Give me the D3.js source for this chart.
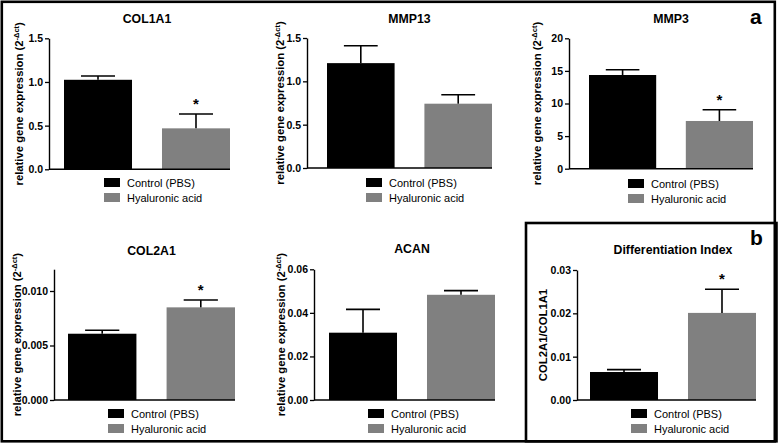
<!DOCTYPE html>
<html><head><meta charset="utf-8">
<script src="https://cdn.jsdelivr.net/npm/d3@7"></script>
<style>
html,body{margin:0;padding:0;background:#fff;}
svg{display:block;font-family:"Liberation Sans",Arial,sans-serif;}
</style></head>
<body>
<svg id="chart" width="778" height="446"></svg>
<script>
// ---- data ----
const panelTitles = ["COL1A1", "MMP13", "MMP3", "COL2A1", "ACAN", "Differentiation Index"];
const groups = ["Control (PBS)", "Hyaluronic acid"];
const controlMean = [1.025, 1.21, 14.37, 0.00608, 0.0309, 0.00646];
const controlErr  = [0.043, 0.20, 0.81, 0.00032, 0.0107, 0.00054];
const haMean      = [0.469, 0.742, 7.32, 0.0085, 0.0483, 0.0201];
const haErr       = [0.164, 0.104, 1.73, 0.00067, 0.0019, 0.00545];
const significant = [[false, true], [false, false], [false, true], [false, true], [false, false], [false, true]];
const yMax = [1.5, 1.5, 20, 0.012, 0.06, 0.03];
const yTicks = [[0, 0.5, 1.0, 1.5], [0, 0.5, 1.0, 1.5], [0, 5, 10, 15, 20], [0, 0.005, 0.010], [0, 0.02, 0.04, 0.06], [0, 0.01, 0.02, 0.03]];
const tickFormats = [".1f", ".1f", "d", ".3f", ".2f", ".2f"];
const yLabelMain = ["relative gene expression (2", "relative gene expression (2", "relative gene expression (2", "relative gene expression (2", "relative gene expression (2", "COL2A1/COL1A1"];
const yLabelSup = ["-\u0394ct", "-\u0394ct", "-\u0394ct", "-\u0394ct", "-\u0394ct", ""];
const colors = ["#000000", "#808080"];

// ---- layout (pixels) ----
const layout = [
  {ax: 49,  top: 38.3, bot: 169.3, b0: 64,  b1: 230, lab: 23,  legX: 104, legY: 178, titleY: 23},
  {ax: 307, top: 38,   bot: 168,   b0: 327, b1: 492, lab: 284, legX: 366, legY: 178, titleY: 23},
  {ax: 569, top: 38.3, bot: 168.7, b0: 589, b1: 753, lab: 541, legX: 628, legY: 179, titleY: 23},
  {ax: 54,  top: 269.2,bot: 400,   b0: 68,  b1: 235, lab: 21,  legX: 108, legY: 409, titleY: 255},
  {ax: 314, top: 269.3,bot: 400,   b0: 329, b1: 495, lab: 285, legX: 368, legY: 409, titleY: 253},
  {ax: 577, top: 270,  bot: 400,   b0: 590, b1: 756, lab: 547, legX: 631, legY: 409, titleY: 254}
];

const svg = d3.select("#chart");

// frames
svg.append("rect").attr("x", 1.8).attr("y", 1.8).attr("width", 773).attr("height", 439.5)
  .attr("fill", "none").attr("stroke", "#000").attr("stroke-width", 2.6);
svg.append("rect").attr("x", 526).attr("y", 223).attr("width", 250.5).attr("height", 218.3)
  .attr("fill", "none").attr("stroke", "#000").attr("stroke-width", 2.6);

svg.append("text").attr("x", 750).attr("y", 23.5).attr("font-size", 21).attr("font-weight", "bold").text("a");
svg.append("text").attr("x", 750).attr("y", 244.5).attr("font-size", 21).attr("font-weight", "bold").text("b");

panelTitles.forEach((title, i) => {
  const L = layout[i];
  const g = svg.append("g");
  const values = [
    {grp: groups[0], mean: controlMean[i], err: controlErr[i], sig: significant[i][0]},
    {grp: groups[1], mean: haMean[i], err: haErr[i], sig: significant[i][1]}
  ];
  const x = d3.scaleBand().domain(groups).range([L.b0, L.b1]).paddingInner(0.306).paddingOuter(0);
  const y = d3.scaleLinear().domain([0, yMax[i]]).range([L.bot, L.top]);
  const color = d3.scaleOrdinal().domain(groups).range(colors);

  // bars
  g.selectAll("rect.bar").data(values).join("rect")
    .attr("x", d => x(d.grp)).attr("width", x.bandwidth())
    .attr("y", d => y(d.mean)).attr("height", d => y(0) - y(d.mean))
    .attr("fill", d => color(d.grp));

  // error bars (upper only)
  const capW = x.bandwidth() * 0.5;
  g.selectAll("line.ev").data(values).join("line")
    .attr("x1", d => x(d.grp) + x.bandwidth() / 2).attr("x2", d => x(d.grp) + x.bandwidth() / 2)
    .attr("y1", d => y(d.mean)).attr("y2", d => y(d.mean + d.err))
    .attr("stroke", "#000").attr("stroke-width", 1.6);
  g.selectAll("line.ec").data(values).join("line")
    .attr("x1", d => x(d.grp) + x.bandwidth() / 2 - capW / 2).attr("x2", d => x(d.grp) + x.bandwidth() / 2 + capW / 2)
    .attr("y1", d => y(d.mean + d.err)).attr("y2", d => y(d.mean + d.err))
    .attr("stroke", "#000").attr("stroke-width", 1.6);

  // significance stars
  g.selectAll("text.star").data(values.filter(d => d.sig)).join("text")
    .attr("x", d => x(d.grp) + x.bandwidth() / 2).attr("y", d => y(d.mean + d.err) - 5)
    .attr("text-anchor", "middle").attr("font-size", 15).attr("font-weight", "bold").text("*");

  // y axis
  const yAxis = d3.axisLeft(y).tickValues(yTicks[i]).tickFormat(d3.format(tickFormats[i]))
    .tickSizeInner(4).tickSizeOuter(0).tickPadding(2);
  const ya = g.append("g").attr("transform", `translate(${L.ax},0)`).call(yAxis);
  ya.select(".domain").attr("stroke", "#000").attr("stroke-width", 1.4);
  ya.selectAll(".tick line").attr("stroke", "#000").attr("stroke-width", 1.3);
  ya.selectAll(".tick text").attr("font-size", 10.5).attr("font-weight", "bold").attr("fill", "#000")
    .attr("font-family", "'Liberation Sans', Arial, sans-serif");

  // x axis line
  g.append("line").attr("x1", L.ax).attr("x2", L.b1).attr("y1", y(0)).attr("y2", y(0))
    .attr("stroke", "#000").attr("stroke-width", 1.4);

  // title
  g.append("text").attr("x", (L.b0 + L.b1) / 2).attr("y", L.titleY)
    .attr("text-anchor", "middle").attr("font-size", 12.3).attr("font-weight", "bold").text(title);

  // y label
  const cy = (L.top + L.bot) / 2;
  const yl = g.append("text").attr("transform", `translate(${L.lab},${cy}) rotate(-90)`)
    .attr("text-anchor", "middle").attr("font-size", 11.3).attr("font-weight", "bold");
  yl.append("tspan").text(yLabelMain[i]);
  if (yLabelSup[i]) {
    yl.append("tspan").attr("font-size", 7.5).attr("dy", -4.5).text(yLabelSup[i]);
    yl.append("tspan").attr("dy", 4.5).text(")");
  }

  // legend
  const leg = g.append("g");
  groups.forEach((grp, k) => {
    leg.append("rect").attr("x", L.legX).attr("y", L.legY + k * 15).attr("width", 16).attr("height", 9)
      .attr("fill", color(grp));
    leg.append("text").attr("x", L.legX + 23).attr("y", L.legY + k * 15 + 9)
      .attr("font-size", 11).attr("fill", "#000").text(grp);
  });
});
</script>
</body></html>
